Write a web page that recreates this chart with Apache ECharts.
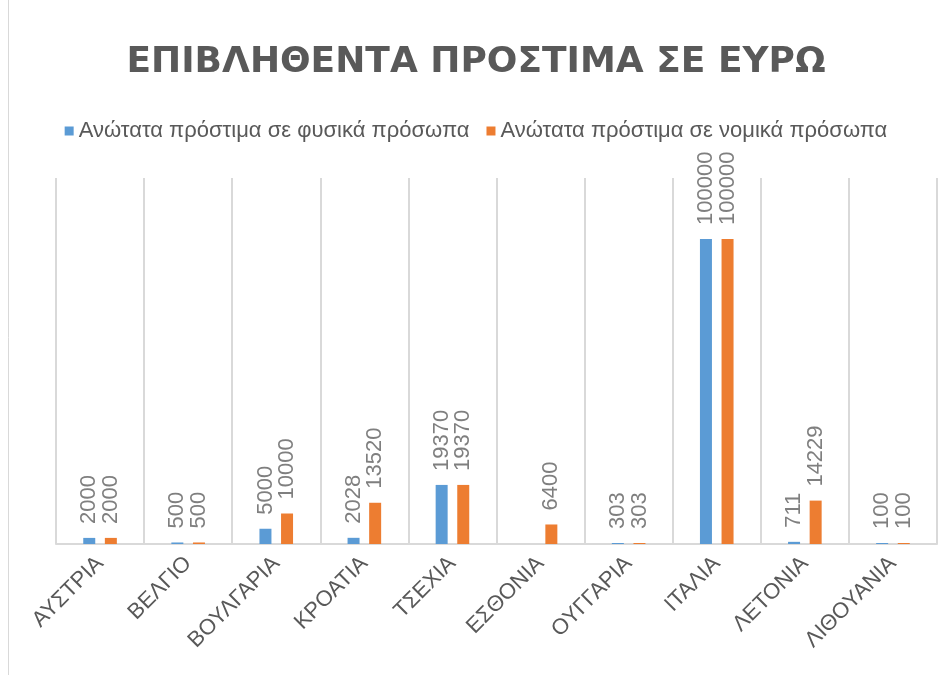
<!DOCTYPE html>
<html>
<head>
<meta charset="utf-8">
<script src="https://cdn.jsdelivr.net/npm/echarts@6/dist/echarts.min.js"></script>
<style>
  html, body { margin: 0; padding: 0; background: #fff; }
  #chart { width: 952px; height: 675px; }
</style>
</head>
<body>
<div id="chart"></div>
<script>
const countries = ['ΑΥΣΤΡΙΑ', 'ΒΕΛΓΙΟ', 'ΒΟΥΛΓΑΡΙΑ', 'ΚΡΟΑΤΙΑ', 'ΤΣΕΧΙΑ', 'ΕΣΘΟΝΙΑ', 'ΟΥΓΓΑΡΙΑ', 'ΙΤΑΛΙΑ', 'ΛΕΤΟΝΙΑ', 'ΛΙΘΟΥΑΝΙΑ'];
const naturalPersons = [2000, 500, 5000, 2028, 19370, null, 303, 100000, 711, 100];
const legalPersons = [2000, 500, 10000, 13520, 19370, 6400, 303, 100000, 14229, 100];
const seriesNames = ['Ανώτατα πρόστιμα σε φυσικά πρόσωπα', 'Ανώτατα πρόστιμα σε νομικά πρόσωπα'];

const chart = echarts.init(document.getElementById('chart'));

// value labels standing upright on top of each bar
const barLabel = {
    show: true,
    position: 'top',
    rotate: 90,
    align: 'left',
    verticalAlign: 'middle',
    distance: 14,
    color: '#7f7f7f',
    fontSize: 22,
    fontFamily: 'Liberation Sans'
};

const option = {
    backgroundColor: '#fff',
    title: {
        text: 'ΕΠΙΒΛΗΘΕΝΤΑ ΠΡΟΣΤΙΜΑ ΣΕ ΕΥΡΩ',
        left: 'center',
        top: 40,
        textStyle: {
            fontFamily: 'DejaVu Sans',
            fontWeight: 'bold',
            fontSize: 36,
            color: '#595959'
        }
    },
    legend: {
        top: 115,
        left: 'center',
        itemWidth: 9,
        itemHeight: 9,
        itemGap: 17,
        icon: 'rect',
        textStyle: { fontSize: 22, color: '#595959', fontFamily: 'Liberation Sans' },
        data: seriesNames
    },
    graphic: [{
        type: 'line',
        shape: { x1: 8.5, y1: 0, x2: 8.5, y2: 675 },
        style: { stroke: '#d9d9d9', lineWidth: 1 }
    }],
    grid: { left: 56, right: 15, top: 178, bottom: 131 },
    xAxis: {
        type: 'category',
        data: countries,
        axisLine: { lineStyle: { color: '#d9d9d9', width: 2 } },
        axisTick: { show: false },
        splitLine: { show: true, interval: 0, lineStyle: { color: '#d9d9d9', width: 2 } },
        axisLabel: {
            interval: 0,
            rotate: 45,
            margin: 16,
            fontSize: 22,
            color: '#595959',
            fontFamily: 'Liberation Sans'
        }
    },
    yAxis: {
        type: 'value',
        min: 0,
        max: 120000,
        show: false,
        splitLine: { show: false }
    },
    series: [
        {
            name: seriesNames[0],
            type: 'bar',
            data: naturalPersons,
            barWidth: 12,
            barGap: '80%',
            barMinHeight: 1,
            itemStyle: { color: '#5b9bd5' },
            label: barLabel
        },
        {
            name: seriesNames[1],
            type: 'bar',
            data: legalPersons,
            barWidth: 12,
            barMinHeight: 1,
            itemStyle: { color: '#ed7d31' },
            label: barLabel
        }
    ]
};

chart.setOption(option);
</script>
</body>
</html>
